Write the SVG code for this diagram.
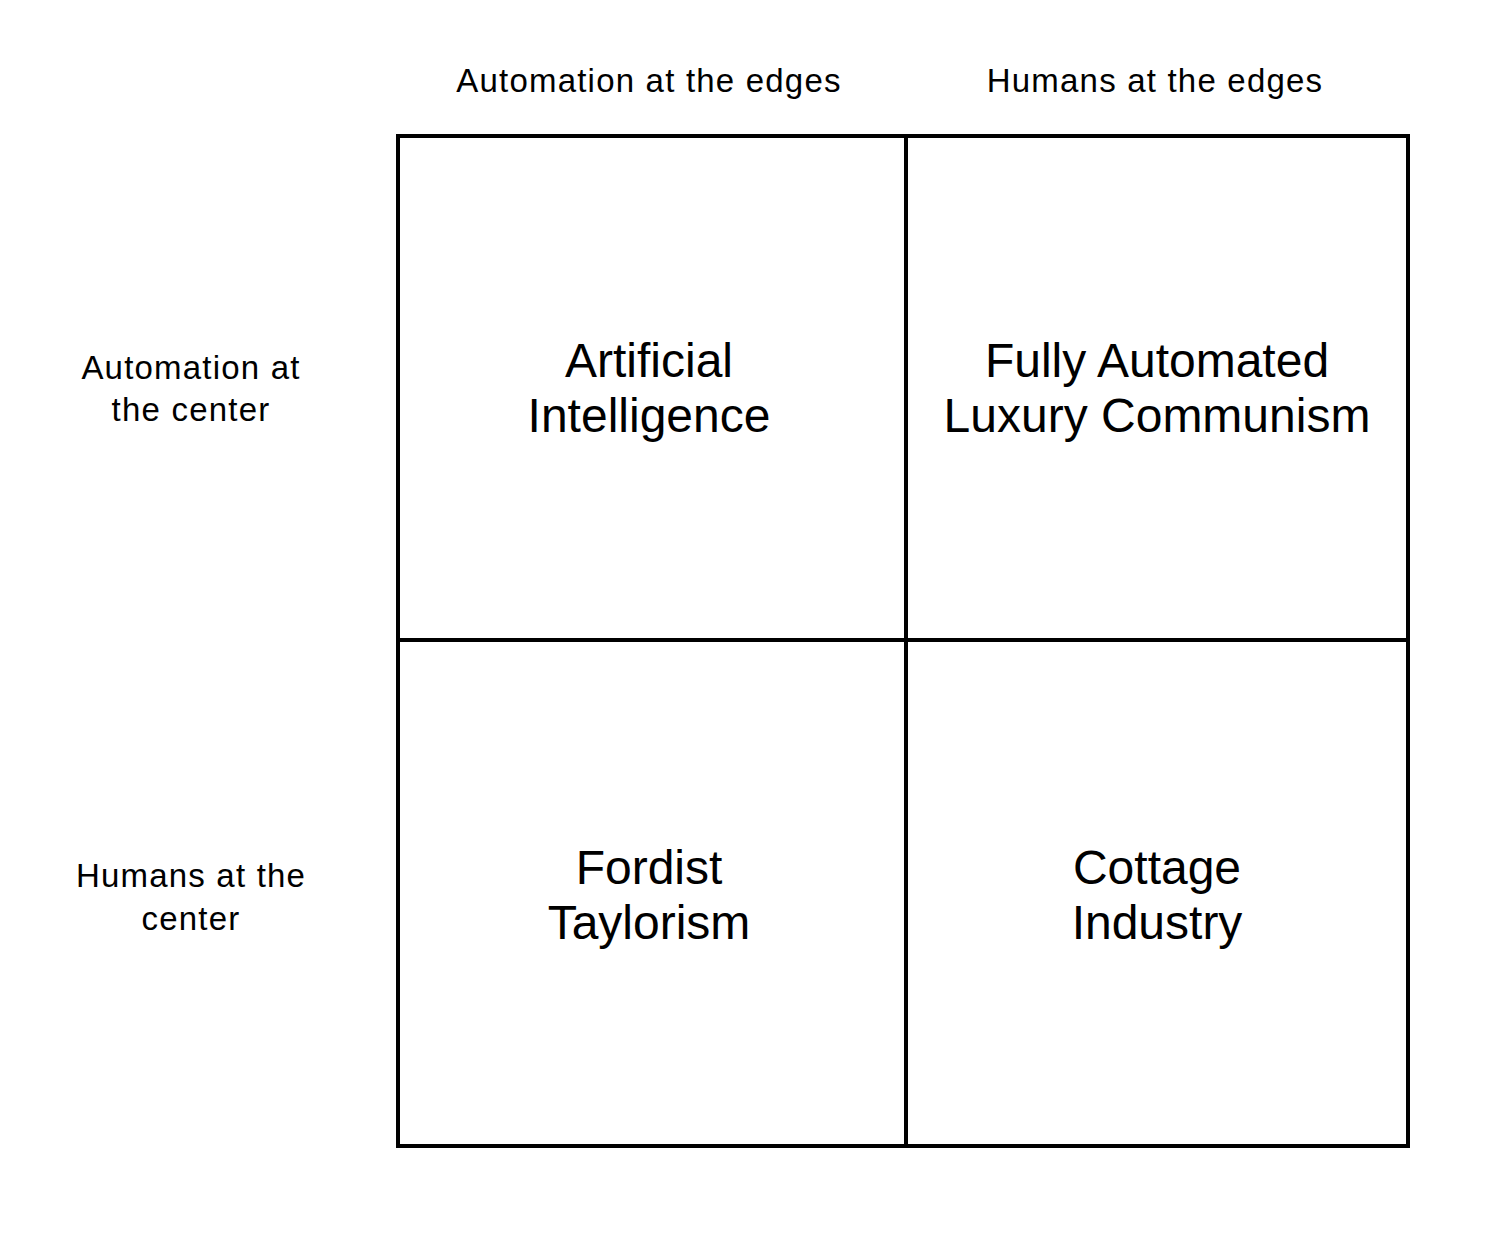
<svg xmlns="http://www.w3.org/2000/svg" width="1506" height="1246" viewBox="0 0 1506 1246">
<style>
.lbl{font-family:"Liberation Sans",Arial,sans-serif;font-size:33px;letter-spacing:1.2px;fill:#000;text-anchor:middle}
.big{font-family:"Liberation Sans",Arial,sans-serif;font-size:48px;fill:#000;text-anchor:middle}
.cell{fill:#fff;stroke:#000;stroke-width:4}
</style>
<rect width="1506" height="1246" fill="#fff"/>
<g id="col-labels">
<text class="lbl" x="649" y="92">Automation at the edges</text>
<text class="lbl" x="1155" y="92">Humans at the edges</text>
</g>
<g id="row-labels">
<text class="lbl" x="191" y="379">Automation at</text>
<text class="lbl" x="191" y="421">the center</text>
<text class="lbl" x="191" y="887">Humans at the</text>
<text class="lbl" x="191" y="930">center</text>
</g>
<g id="q-ai">
<rect class="cell" x="398" y="136" width="508" height="504"/>
<text class="big" x="649" y="377">Artificial</text>
<text class="big" x="649" y="432">Intelligence</text>
</g>
<g id="q-falc">
<rect class="cell" x="906" y="136" width="502" height="504"/>
<text class="big" x="1157" y="377">Fully Automated</text>
<text class="big" x="1157" y="432">Luxury Communism</text>
</g>
<g id="q-fordist">
<rect class="cell" x="398" y="640" width="508" height="506"/>
<text class="big" x="649" y="884">Fordist</text>
<text class="big" x="649" y="939">Taylorism</text>
</g>
<g id="q-cottage">
<rect class="cell" x="906" y="640" width="502" height="506"/>
<text class="big" x="1157" y="884">Cottage</text>
<text class="big" x="1157" y="939">Industry</text>
</g>
<g id="connectors"></g>
</svg>
